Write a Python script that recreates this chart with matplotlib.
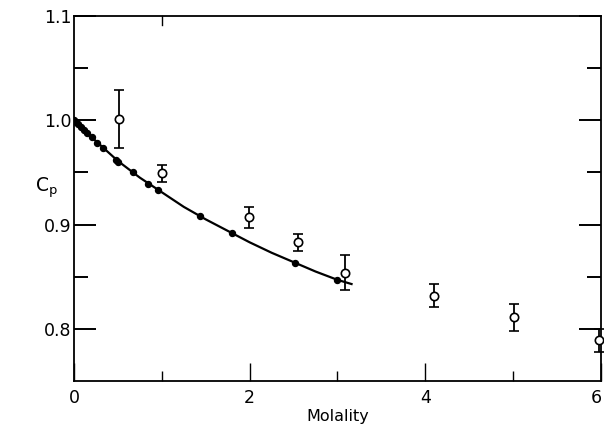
import matplotlib
matplotlib.use("Agg")
import matplotlib.pyplot as plt
from matplotlib.ticker import FixedLocator
from matplotlib.transforms import ScaledTranslation

# Filled points (on the curve)
filled_x = [0.0, 0.02, 0.05, 0.08, 0.11, 0.15, 0.20, 0.26, 0.33, 0.48, 0.50, 0.67, 0.84, 0.96, 1.43, 1.80, 2.52, 3.00]
filled_y = [1.000, 0.998, 0.996, 0.994, 0.991, 0.988, 0.984, 0.978, 0.973, 0.962, 0.960, 0.950, 0.939, 0.933, 0.908, 0.892, 0.863, 0.847]

# Smooth curve
curve_x = [0.0, 0.25, 0.5, 0.75, 1.0, 1.25, 1.5, 1.75, 2.0, 2.25, 2.5, 2.75, 3.0, 3.16]
curve_y = [1.000, 0.980, 0.961, 0.945, 0.931, 0.917, 0.905, 0.894, 0.883, 0.873, 0.864, 0.855, 0.847, 0.843]

# Open points with error bars
open_x = [0.51, 1.00, 1.99, 2.55, 3.08, 4.10, 5.01, 5.98]
open_y = [1.001, 0.949, 0.907, 0.883, 0.854, 0.832, 0.811, 0.789]
open_err = [0.028, 0.008, 0.010, 0.008, 0.017, 0.011, 0.013, 0.011]

x_major = [0, 2, 4, 6]
x_labels = ["0", "2", "4", "6"]
x_minor = [1, 3, 5]
y_major = [0.8, 0.9, 1.0, 1.1]
y_labels = ["0.8", "0.9", "1.0", "1.1"]
y_minor = [0.85, 0.95, 1.05]

fig = plt.figure(figsize=(6.04, 4.26), dpi=100)
ax = fig.add_axes([0.1225, 0.1056, 0.8725, 0.8568])

ax.plot(curve_x, curve_y, color="black", lw=1.6, zorder=2)
ax.plot(filled_x, filled_y, "o", color="black", ms=4.3, zorder=3)
ax.errorbar(open_x, open_y, yerr=open_err, fmt="o", mfc="white", mec="black",
            ecolor="black", ms=6, mew=1.2, elinewidth=1.3, capsize=3.5, capthick=1.5,
            zorder=4, clip_on=False)

ax.set_xlim(0, 6)
ax.set_ylim(0.75, 1.1)

ax.xaxis.set_major_locator(FixedLocator(x_major))
ax.set_xticklabels(x_labels)
ax.xaxis.set_minor_locator(FixedLocator(x_minor))
ax.yaxis.set_major_locator(FixedLocator(y_major))
ax.set_yticklabels(y_labels)
ax.yaxis.set_minor_locator(FixedLocator(y_minor))

ax.tick_params(axis="y", which="major", direction="in", length=16, width=1.4,
               left=True, right=True, labelsize=12.5, pad=2)
ax.tick_params(axis="y", which="minor", direction="in", length=10, width=1.4,
               left=True, right=True)
ax.tick_params(axis="x", which="major", direction="in", length=13, width=1.0,
               bottom=True, top=False, labelsize=12.5, pad=6)
ax.tick_params(axis="x", which="minor", direction="in", length=7, width=1.0,
               bottom=True, top=False)

# keep the last x tick label inside the figure
last = ax.get_xticklabels()[-1]
last.set_transform(last.get_transform() + ScaledTranslation(-5 / 100, 0, fig.dpi_scale_trans))

# top tick at x=1
ax.plot([1, 1], [1.1, 1.1 - 0.009], color="black", lw=1.0, clip_on=False)

for s in ax.spines.values():
    s.set_linewidth(1.3)

ax.set_xlabel("Molality", fontsize=11.5, labelpad=1)
fig.text(0.058, 0.56, "C$_\\mathregular{p}$", fontsize=13.5, ha="left", va="center")

fig.savefig("out.png", dpi=100)
